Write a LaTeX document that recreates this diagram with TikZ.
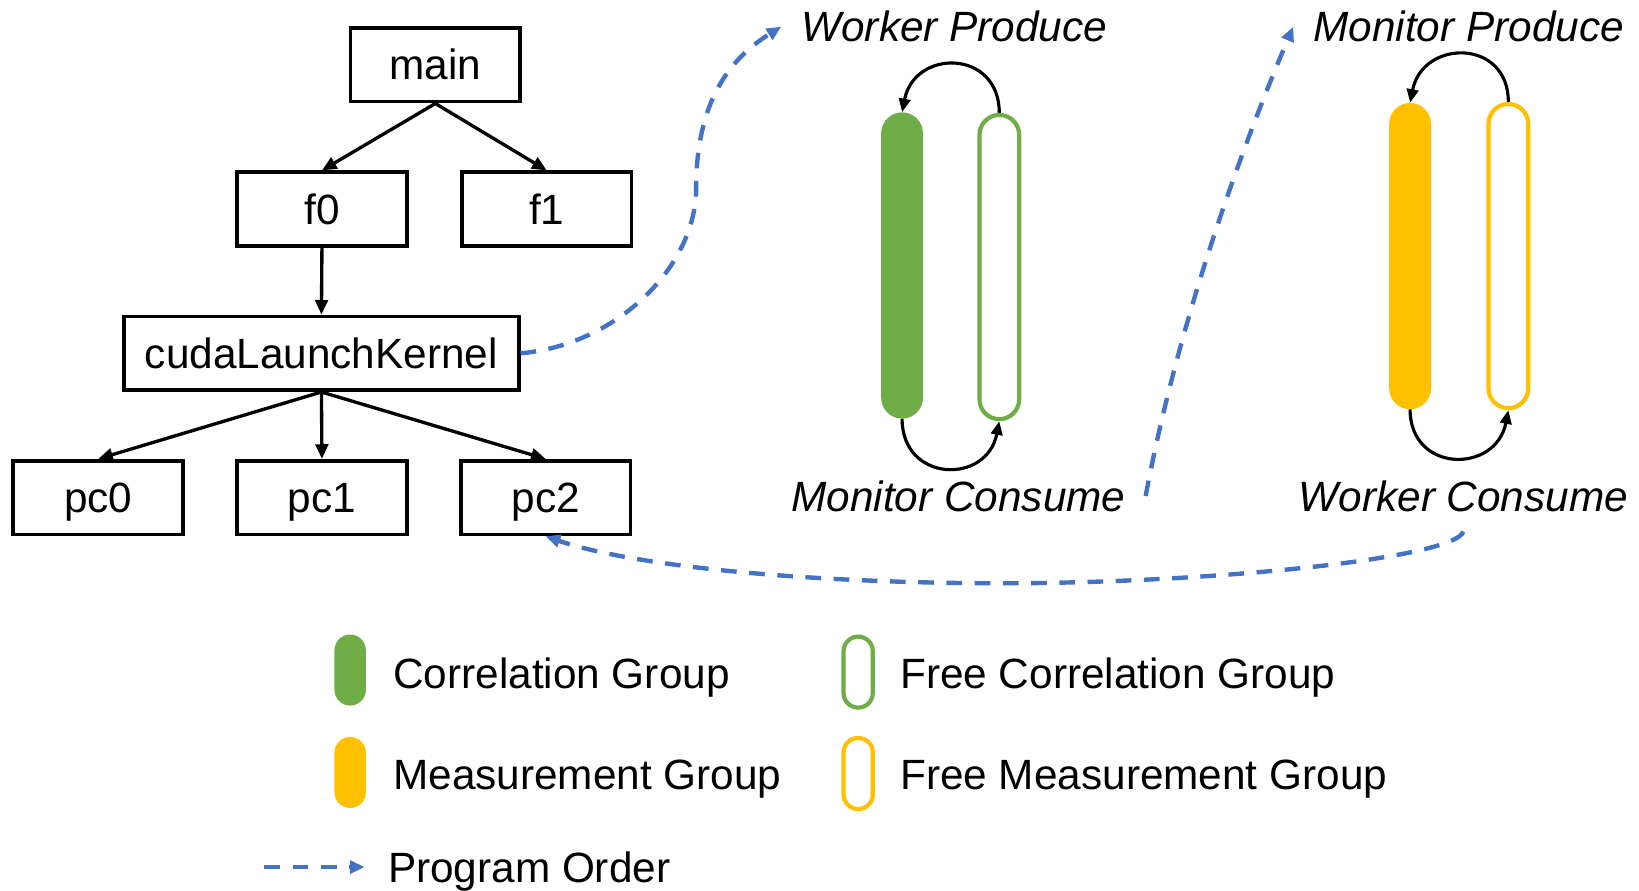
\documentclass[tikz,border=0pt]{standalone}
\usepackage{fontspec}
\setmainfont{Liberation Sans}
\usetikzlibrary{arrows.meta}
\definecolor{cgreen}{HTML}{70AD47}
\definecolor{cyellow}{HTML}{FFC000}
\definecolor{cblue}{HTML}{4472C4}
\begin{document}
\begin{tikzpicture}[x=1pt,y=-1pt,
  txt/.style={font=\fontsize{40.5}{48}\selectfont},
  box/.style={txt, draw, line width=3.5pt, minimum width=162.5pt, minimum height=70.5pt,
    inner sep=0pt, text height=29pt, text depth=0pt},
  lab/.style={txt, font=\fontsize{40.5}{48}\selectfont\itshape, inner sep=19pt, anchor=base},
  legtxt/.style={txt, inner sep=0pt, anchor=base west},
  fillpill/.style={fill=#1, rounded corners=20pt, minimum width=40pt, minimum height=293pt, inner sep=0pt},
  outpill/.style={draw=#1, fill=white, line width=4pt, rounded corners=19pt, minimum width=38pt, minimum height=291pt, inner sep=0pt},
  sfillpill/.style={fill=#1, rounded corners=15pt, minimum width=30pt, minimum height=68pt, inner sep=0pt},
  soutpill/.style={draw=#1, fill=white, line width=4pt, rounded corners=14pt, minimum width=28pt, minimum height=68pt, inner sep=0pt},
  tree/.style={line width=3.2pt, -{Triangle[length=14pt,width=12pt]}},
  loop/.style={line width=3pt, -{Triangle[length=13pt,width=11pt]}},
  order/.style={cblue, line width=4.2pt, dash pattern=on 15pt off 12pt, -{Triangle[length=14pt,width=12pt]}}
]
\useasboundingbox (0,0) rectangle (1568,852);

% tree
\node[box] (main) at (416.5,62) {main};
\node[box] (f0) at (308,200) {f0};
\node[box] (f1) at (523,200) {f1};
\node[box, minimum width=377.5pt] (ck) at (307.5,338) {cudaLaunchKernel};
\node[box] (pc0) at (94,476) {pc0};
\node[box] (pc1) at (308,476) {pc1};
\node[box] (pc2) at (522,476) {pc2};
\draw[tree] (main.south) -- (f0.north);
\draw[tree] (main.south) -- (f1.north);
\draw[tree] (f0.south) -- (ck.north);
\draw[tree] (ck.south) -- (pc0.north);
\draw[tree] (ck.south) -- (pc1.north);
\draw[tree] (ck.south) -- (pc2.north);

% labels
\node[lab] (wp) at (913,40) {Worker Produce};
\node[lab] (mp) at (1405,40) {Monitor Produce};
\node[lab] (mc) at (917,489) {Monitor Consume};
\node[lab] (wc) at (1400,489) {Worker Consume};

% pills
\node[fillpill=cgreen] (gf) at (863,254) {};
\node[outpill=cgreen] (go) at (956,255.5) {};
\node[fillpill=cyellow] (yf) at (1349,245) {};
\node[outpill=cyellow] (yo) at (1443,245) {};

\draw[loop] (go.north) .. controls +(0,-61) and +(12,-61) .. (gf.north);
\draw[loop] (gf.south) .. controls +(0,61) and +(-12,61) .. (go.south);
\draw[loop] (yo.north) .. controls +(0,-61) and +(12,-61) .. (yf.north);
\draw[loop] (yf.south) .. controls +(0,61) and +(-12,61) .. (yo.south);

% program order connectors
\draw[order] (ck.east) .. controls (590,330) and (666,255) .. (666,180)
  .. controls (666,95) and (700,55) .. (wp.west);
\draw[order] (mc.east) .. controls (1125,320) and (1180,160) .. (mp.west);
\draw[order] (wc.south) .. controls (1390,535) and (1150,558) .. (960,558)
  .. controls (760,558) and (600,540) .. (pc2.south);

% legend
\node[sfillpill=cgreen] (lcg) at (335,641) {};
\node[soutpill=cgreen] (lfcg) at (821,643) {};
\node[sfillpill=cyellow] (lmg) at (335,739) {};
\node[soutpill=cyellow] (lfmg) at (821,740) {};
\node[legtxt] (tcg) at (376,659) {Correlation Group};
\node[legtxt] (tfcg) at (861,659) {Free Correlation Group};
\node[legtxt] (tmg) at (376,755) {Measurement Group};
\node[legtxt] (tfmg) at (861,755) {Free Measurement Group};
\coordinate (poa) at (253,829.5);
\coordinate (pob) at (349,829.5);
\draw[order] (poa) -- (pob);
\node[legtxt] (tpo) at (371,844) {Program Order};
\end{tikzpicture}
\end{document}
